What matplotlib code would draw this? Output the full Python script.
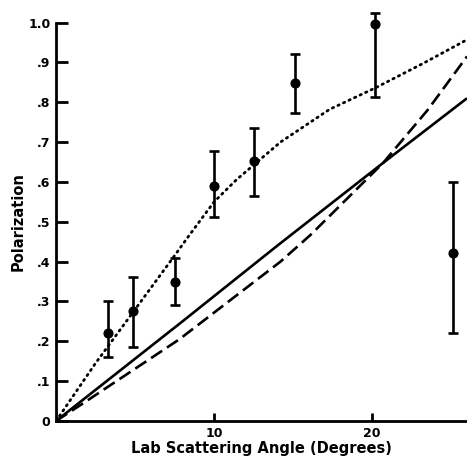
import matplotlib.pyplot as plt
import numpy as np

# measured points (angle in degrees, polarization, error bar low/high)
angle = [3.3, 4.9, 7.5, 10.0, 12.5, 15.1, 20.2, 25.1]
polar = [0.221, 0.275, 0.348, 0.591, 0.652, 0.848, 0.997, 0.421]
err_lo = [0.16, 0.186, 0.29, 0.511, 0.564, 0.773, 0.814, 0.22]
err_hi = [0.30, 0.361, 0.409, 0.677, 0.735, 0.922, 1.024, 0.60]

# theory curves
solid_x = [0, 8, 14, 20.7, 26]
solid_y = [0, 0.25, 0.44, 0.648, 0.81]
dash_x = [0, 1.7, 7.8, 14.2, 16.1, 20.7, 23.5, 26]
dash_y = [0, 0.044, 0.205, 0.40, 0.467, 0.648, 0.78, 0.915]
dot_x = [0, 2.5, 5, 7.5, 8.5, 10, 11.4, 14.2, 17.3, 20.2, 23.2, 26]
dot_y = [0, 0.145, 0.28, 0.415, 0.47, 0.55, 0.605, 0.70, 0.782, 0.836, 0.897, 0.957]

yticks = [0, 0.1, 0.2, 0.3, 0.4, 0.5, 0.6, 0.7, 0.8, 0.9, 1.0]
ylabels = ["0", ".1", ".2", ".3", ".4", ".5", ".6", ".7", ".8", ".9", "1.0"]
xticks = [10, 20]

fig = plt.figure(figsize=(4.67, 4.66), dpi=100)
ax = fig.add_axes([0.12, 0.0966, 0.88, 0.855])

ax.plot(solid_x, solid_y, color="black", lw=1.9, solid_capstyle="butt")
ax.plot(dash_x, dash_y, color="black", lw=1.9, dashes=(5, 2.2))
ax.plot(dot_x, dot_y, color="black", lw=2.0, linestyle=(0, (0.5, 1.7)),
        dash_capstyle="round")

a = np.array(angle)
p = np.array(polar)
yerr = [p - np.array(err_lo), np.array(err_hi) - p]
ax.errorbar(a, p, yerr=yerr, fmt="o", color="black", ms=6.3, elinewidth=1.9,
            capsize=3.5, capthick=1.9, clip_on=False)

ax.set_xlim(0, 26)
ax.set_ylim(0, 1.0)
ax.set_xticks(xticks)
ax.set_yticks(yticks)
ax.set_yticklabels(ylabels)
ax.tick_params(axis="y", direction="in", length=8.5, width=2, labelsize=9, pad=4)
ax.tick_params(axis="x", direction="in", length=6, width=2, labelsize=9, pad=4)
for lab in ax.get_xticklabels() + ax.get_yticklabels():
    lab.set_fontweight("bold")

for side in ["top", "right"]:
    ax.spines[side].set_visible(False)
for side in ["left", "bottom"]:
    ax.spines[side].set_linewidth(2)

ax.set_xlabel("Lab Scattering Angle (Degrees)", fontsize=10.5, fontweight="bold", labelpad=1)
ax.set_ylabel("Polarization", fontsize=10.5, fontweight="bold", labelpad=2)

fig.savefig("out.png", dpi=100)
